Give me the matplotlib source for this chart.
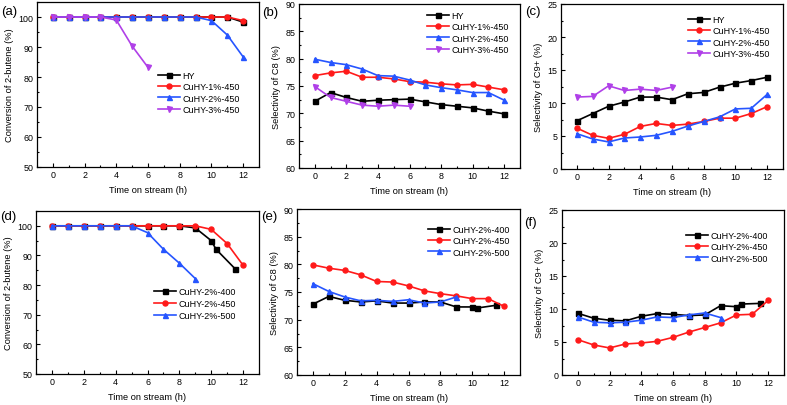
import numpy as np
import matplotlib
matplotlib.use('Agg')
import matplotlib.pyplot as plt
from matplotlib.ticker import MultipleLocator

plt.rcParams['font.family'] = ['Liberation Sans', 'DejaVu Sans']

# data
t = list(range(13))
t6 = list(range(7))
t9 = list(range(10))
t400 = [0, 1, 2, 3, 4, 5, 6, 7, 8, 9, 10, 10.3, 11.5]

conv_hy = [100, 100, 100, 100, 100, 100, 100, 100, 100, 100, 100, 100, 98.3]
conv_cu1 = [100, 100, 100, 100, 100, 100, 100, 100, 100, 100, 100, 100, 98.8]
conv_cu2 = [100, 100, 100, 100, 100, 100, 100, 100, 100, 100, 98.8, 94.0, 86.7]
conv_cu3 = [100, 100, 100, 100, 99.0, 90.3, 83.2]

c8_hy = [72.2, 73.8, 72.9, 72.2, 72.4, 72.5, 72.6, 72.1, 71.6, 71.3, 71.0, 70.4, 69.9]
c8_cu1 = [76.9, 77.4, 77.7, 76.6, 76.6, 76.3, 75.8, 75.7, 75.4, 75.2, 75.3, 74.8, 74.3]
c8_cu2 = [79.9, 79.3, 78.9, 78.1, 76.9, 76.8, 76.1, 75.2, 74.7, 74.3, 73.8, 73.8, 72.4]
c8_cu3 = [74.9, 72.9, 72.2, 71.5, 71.3, 71.5, 71.3]

c9_hy = [7.3, 8.4, 9.5, 10.15, 10.9, 10.9, 10.5, 11.4, 11.6, 12.4, 13.0, 13.4, 13.9]
c9_cu1 = [6.2, 5.1, 4.65, 5.25, 6.45, 6.9, 6.6, 6.8, 7.2, 7.7, 7.7, 8.4, 9.45]
c9_cu2 = [5.35, 4.55, 4.1, 4.7, 4.85, 5.1, 5.7, 6.5, 7.2, 7.9, 9.1, 9.2, 11.3]
c9_cu3 = [10.9, 11.0, 12.6, 11.9, 12.1, 11.9, 12.4]

conv_400 = [100, 100, 100, 100, 100, 100, 100, 100, 100, 99.3, 95.0, 92.1, 85.5]
conv_450 = conv_cu2
conv_500 = [100, 100, 100, 100, 100, 100, 97.7, 92.1, 87.4, 82.2]

c8_400 = [72.8, 74.2, 73.5, 73.2, 73.4, 73.0, 73.0, 73.2, 73.2, 72.3, 72.3, 72.1, 72.6]
c8_450 = c8_cu2
c8_500 = [76.5, 75.1, 74.1, 73.4, 73.5, 73.3, 73.6, 73.0, 73.2, 74.1]

c9_400 = [9.35, 8.6, 8.3, 8.2, 8.9, 9.3, 9.2, 9.0, 9.1, 10.5, 10.35, 10.75, 10.85]
c9_450 = c9_cu2
c9_500 = [8.8, 8.0, 7.9, 8.0, 8.3, 8.8, 8.7, 9.1, 9.4, 8.7]

lab_top = ['HY', 'CuHY-1%-450', 'CuHY-2%-450', 'CuHY-3%-450']
lab_bot = ['CuHY-2%-400', 'CuHY-2%-450', 'CuHY-2%-500']

BLACK, RED, BLUE, PURPLE = 'black', '#ff1a1a', '#2655ff', '#b040e8'

W, H = 787, 406
fig = plt.figure(figsize=(W / 100, H / 100), dpi=100)


def px_axes(l, t_, r, b):
    return fig.add_axes([l / W, 1 - b / H, (r - l) / W, (b - t_) / H])


def style(ax, ylim, ymaj, ylabel):
    ax.set_xlim(-1, 13)
    ax.set_ylim(*ylim)
    ax.xaxis.set_major_locator(MultipleLocator(2))
    ax.xaxis.set_minor_locator(MultipleLocator(1))
    ax.yaxis.set_major_locator(MultipleLocator(ymaj))
    ax.yaxis.set_minor_locator(MultipleLocator(ymaj / 2))
    ax.tick_params(which='both', direction='in', labelsize=6.4, width=0.8, pad=2.5)
    ax.tick_params(which='major', length=3)
    ax.tick_params(which='minor', length=1.5)
    for s in ax.spines.values():
        s.set_linewidth(0.9)
    ax.set_xlabel('Time on stream (h)', fontsize=6.7, labelpad=4)
    ax.set_ylabel(ylabel, fontsize=6.7, labelpad=3)


def draw(ax, x, y, c, m, lab):
    ax.plot(x, y, color=c, marker=m, markersize=3.6, linewidth=1.2, label=lab)


def leg(ax, x_px, y_px, sp=0.25):
    bb = ax.get_position()
    fx = x_px / W
    fy = 1 - y_px / H
    ax.legend(loc='upper left', bbox_to_anchor=((fx - bb.x0) / bb.width, (fy - bb.y0) / bb.height),
              frameon=False, fontsize=6.5, handlelength=2.4, handletextpad=0.3,
              labelspacing=sp, borderpad=0, borderaxespad=0)


# (a)
ax = px_axes(37, 3, 259, 168)
draw(ax, t, conv_hy, BLACK, 's', lab_top[0])
draw(ax, t, conv_cu1, RED, 'o', lab_top[1])
draw(ax, t, conv_cu2, BLUE, '^', lab_top[2])
draw(ax, t6, conv_cu3, PURPLE, 'v', lab_top[3])
style(ax, (50, 105), 10, 'Conversion of 2-butene (%)')
leg(ax, 158, 72)

# (b)
ax = px_axes(299, 5, 520, 169)
draw(ax, t, c8_hy, BLACK, 's', lab_top[0])
draw(ax, t, c8_cu1, RED, 'o', lab_top[1])
draw(ax, t, c8_cu2, BLUE, '^', lab_top[2])
draw(ax, t6, c8_cu3, PURPLE, 'v', lab_top[3])
style(ax, (60, 90), 5, 'Selectivity of C8 (%)')
leg(ax, 427, 12)

# (c)
ax = px_axes(561, 5, 783, 170)
draw(ax, t, c9_hy, BLACK, 's', lab_top[0])
draw(ax, t, c9_cu1, RED, 'o', lab_top[1])
draw(ax, t, c9_cu2, BLUE, '^', lab_top[2])
draw(ax, t6, c9_cu3, PURPLE, 'v', lab_top[3])
style(ax, (0, 25), 5, 'Selectivity of C9+ (%)')
leg(ax, 688, 16)

# (d)
ax = px_axes(36, 212, 259, 375)
draw(ax, t400, conv_400, BLACK, 's', lab_bot[0])
draw(ax, t, conv_450, RED, 'o', lab_bot[1])
draw(ax, t9, conv_500, BLUE, '^', lab_bot[2])
style(ax, (50, 105), 10, 'Conversion of 2-butene (%)')
leg(ax, 154, 288, sp=0.35)

# (e)
ax = px_axes(297, 210, 520, 376)
draw(ax, t400, c8_400, BLACK, 's', lab_bot[0])
draw(ax, t, c8_450, RED, 'o', lab_bot[1])
draw(ax, t9, c8_500, BLUE, '^', lab_bot[2])
style(ax, (60, 90), 5, 'Selectivity of C8 (%)')
leg(ax, 428, 226)

# (f)
ax = px_axes(562, 211, 784, 376)
draw(ax, t400, c9_400, BLACK, 's', lab_bot[0])
draw(ax, t, c9_450, RED, 'o', lab_bot[1])
draw(ax, t9, c9_500, BLUE, '^', lab_bot[2])
style(ax, (0, 25), 5, 'Selectivity of C9+ (%)')
leg(ax, 686, 232)

for lab, x, y in [('(a)', 1, 12), ('(b)', 262, 13), ('(c)', 525, 12),
                  ('(d)', 0, 217), ('(e)', 261, 217), ('(f)', 524, 223)]:
    fig.text(x / W, 1 - y / H, lab, fontsize=9.5, va='center', ha='left')

fig.savefig('out.png', dpi=100)
